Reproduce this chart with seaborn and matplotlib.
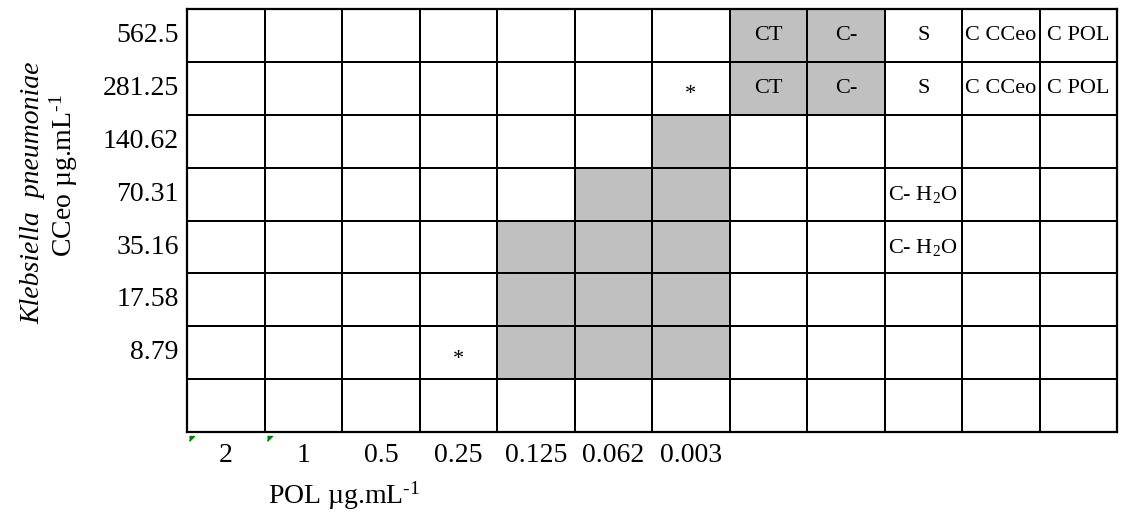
import numpy as np
import matplotlib
matplotlib.use("Agg")
import matplotlib.pyplot as plt
from matplotlib.colors import ListedColormap
import seaborn as sns

# Checkerboard data (rows: CCeo concentrations, cols: POL concentrations + controls)
cceo_labels = ["562.5", "281.25", "140.62", "70.31", "35.16", "17.58", "8.79", ""]
pol_labels = ["2", "1", "0.5", "0.25", "0.125", "0.062", "0.003", "", "", "", "", ""]

# 1 = grey (inhibition / controls), 0 = white
shaded = [
    [0, 0, 0, 0, 0, 0, 0, 1, 1, 0, 0, 0],
    [0, 0, 0, 0, 0, 0, 0, 1, 1, 0, 0, 0],
    [0, 0, 0, 0, 0, 0, 1, 0, 0, 0, 0, 0],
    [0, 0, 0, 0, 0, 1, 1, 0, 0, 0, 0, 0],
    [0, 0, 0, 0, 1, 1, 1, 0, 0, 0, 0, 0],
    [0, 0, 0, 0, 1, 1, 1, 0, 0, 0, 0, 0],
    [0, 0, 0, 0, 1, 1, 1, 0, 0, 0, 0, 0],
    [0, 0, 0, 0, 0, 0, 0, 0, 0, 0, 0, 0],
]

# cell notes: (row, col, text, align)
notes = [
    (0, 7, "CT", "center"), (0, 8, "C-", "center"), (0, 9, "S", "center"),
    (0, 10, "C CCeo", "left"), (0, 11, "C POL", "center"),
    (1, 6, "*", "center"), (1, 7, "CT", "center"), (1, 8, "C-", "center"),
    (1, 9, "S", "center"), (1, 10, "C CCeo", "left"), (1, 11, "C POL", "center"),
    (3, 9, "C- H$_2$O", "left"), (4, 9, "C- H$_2$O", "left"),
    (6, 3, "*", "center"),
]

plt.rcParams['font.family'] = ['Liberation Serif', 'DejaVu Serif']
plt.rcParams['mathtext.fontset'] = 'custom'
plt.rcParams['mathtext.rm'] = 'Liberation Serif'
plt.rcParams['mathtext.it'] = 'Liberation Serif:italic'

fig = plt.figure(figsize=(11.22, 5.2), dpi=100)
ax = fig.add_axes([0.1667, 0.169, 0.829, 0.8135])

sns.heatmap(np.array(shaded), ax=ax, cmap=ListedColormap(["white", "#c0c0c0"]),
            cbar=False, linewidths=1.4, linecolor="black",
            xticklabels=pol_labels, yticklabels=cceo_labels, vmin=0, vmax=1)

for r, c, txt, ha in notes:
    x = c + 0.04 if ha == "left" else c + 0.5
    y = r + 0.62 if txt == "*" else r + 0.5
    ax.text(x, y, txt, ha=ha, va="center", fontsize=16)

for s in ax.spines.values():
    s.set_visible(True)
    s.set_linewidth(1.6)
    s.set_color("black")

ax.tick_params(axis="both", length=0, labelsize=20)
ax.tick_params(axis="x", pad=8)
ax.tick_params(axis="y", pad=6)
plt.setp(ax.get_xticklabels(), rotation=0)
plt.setp(ax.get_yticklabels(), rotation=0, ha="right")

# small green corner marks below the first two columns
ax.plot([0.03, 1.03], [8.08, 8.08], linestyle="none", marker=[(0, 0), (1, 0), (0, -1)],
        markersize=7, color="green", clip_on=False)

unit = r"µg.mL$^{\text{-1}}$"
fig.text(0.029, 0.63, "Klebsiella  pneumoniae", rotation=90, ha="center", va="center",
         fontsize=20, style="italic")
fig.text(0.057, 0.663, "CCeo " + unit, rotation=90, ha="center", va="center", fontsize=20)
fig.text(0.307, 0.046, "POL " + unit, ha="center", va="center", fontsize=20)

fig.savefig("out.png", dpi=100)
